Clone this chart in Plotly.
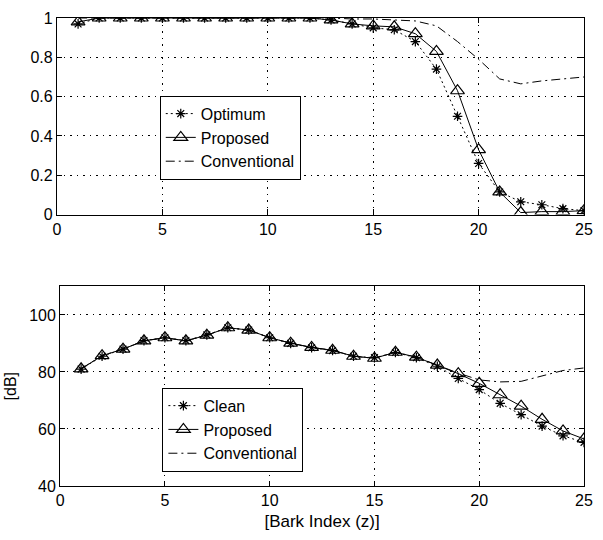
import plotly.graph_objects as go

bark = list(range(1, 26))

# Top panel (normalised gain)
top_optimum = [0.97, 1.0, 1.0, 1.0, 1.0, 1.0, 1.0, 1.0, 1.0, 1.0, 1.0, 1.0, 0.99, 0.97, 0.95,
               0.94, 0.88, 0.74, 0.50, 0.26, 0.115, 0.065, 0.05, 0.03, 0.02]
top_proposed = [0.98, 1.0, 1.0, 1.0, 1.0, 1.0, 1.0, 1.0, 1.0, 1.0, 1.0, 1.0, 0.99, 0.97, 0.96,
                0.955, 0.92, 0.83, 0.63, 0.33, 0.115, 0.01, 0.015, 0.015, 0.02]
top_conventional = [1.0, 1.0, 1.0, 1.0, 1.0, 1.0, 1.0, 1.0, 1.0, 1.0, 1.0, 1.0, 1.0, 0.995, 0.995,
                    0.99, 0.985, 0.96, 0.88, 0.79, 0.69, 0.665, 0.68, 0.69, 0.70]

# Bottom panel (dB)
bot_clean = [81, 85.5, 88, 91, 92, 91, 93, 95.5, 94.7, 92, 90, 88.5, 87.5, 85.5, 85,
             86.8, 85, 82, 77.7, 73.8, 69, 65, 61, 57.6, 55.3]
bot_proposed = [81.1, 85.7, 88, 90.9, 92, 90.9, 92.9, 95.5, 94.7, 92, 90.1, 88.6, 87.6, 85.5, 84.8,
                86.9, 85.2, 82.4, 79.4, 76, 72, 68, 63.4, 59.3, 56.5]
bot_conventional = [81.1, 85.7, 88, 90.9, 92, 90.9, 92.9, 95.5, 94.7, 92, 90.1, 88.6, 87.6, 85.5, 84.8,
                    86.9, 85.2, 82.4, 79.6, 77.2, 76.5, 76.7, 78.6, 80.5, 81.4]

x_ticks = [0, 5, 10, 15, 20, 25]

FONT = "Liberation Sans, Arial, sans-serif"
fig = go.Figure()

def add(x, y, name, xa, ya, legend, dash, symbol, msize, group):
    fig.add_trace(go.Scatter(
        x=x, y=y, name=name, xaxis=xa, yaxis=ya, legend=legend, legendgroup=group,
        mode="lines+markers" if symbol else "lines",
        line=dict(color="black", width=1, dash=dash),
        marker=dict(symbol=symbol or "circle", size=msize, color="black",
                    line=dict(color="black", width=1.2)) if symbol else None,
    ))

DOT = "2px,3px"
DASHDOT = "9px,4px,2px,4px"

add(bark, top_optimum, "Optimum", "x", "y", "legend", DOT, "asterisk-open", 8, "a")
add(bark, top_proposed, "Proposed", "x", "y", "legend", "solid", "triangle-up-open", 12, "b")
add(bark, top_conventional, "Conventional", "x", "y", "legend", DASHDOT, None, 0, "c")

add(bark, bot_clean, "Clean", "x2", "y2", "legend2", DOT, "asterisk-open", 8, "d")
add(bark, bot_proposed, "Proposed", "x2", "y2", "legend2", "solid", "triangle-up-open", 12, "e")
add(bark, bot_conventional, "Conventional", "x2", "y2", "legend2", DASHDOT, None, 0, "f")

axis_common = dict(
    showline=True, linecolor="black", linewidth=1.2, mirror="ticks",
    ticks="inside", ticklen=5, tickcolor="black",
    showgrid=True, gridcolor="black", gridwidth=1, griddash="1.5px,5px",
    zeroline=False, tickfont=dict(family=FONT, size=16, color="black"),
)

legend_common = dict(
    bgcolor="white", bordercolor="black", borderwidth=1,
    font=dict(family=FONT, size=16, color="black"),
    xanchor="left", yanchor="top", tracegroupgap=0, itemwidth=30,
)

fig.update_layout(
    width=603, height=540,
    margin=dict(l=56, r=17, t=10, b=54),
    paper_bgcolor="white", plot_bgcolor="white",
    showlegend=True,
    xaxis=dict(domain=[0, 1], range=[0, 25], tickvals=x_ticks, anchor="y", **axis_common),
    yaxis=dict(domain=[0.58, 1], range=[0, 1], dtick=0.2, anchor="x", **axis_common),
    xaxis2=dict(domain=[0.006, 1], range=[0, 25], tickvals=x_ticks, anchor="y2",
                title=dict(text="[Bark Index (z)]", font=dict(family=FONT, size=17, color="black"),
                           standoff=6),
                **axis_common),
    yaxis2=dict(domain=[0, 0.4265], range=[40, 110], tickvals=[40, 60, 80, 100], anchor="x2",
                title=dict(text="[dB]", font=dict(family=FONT, size=16, color="black"), standoff=8),
                **axis_common),
    legend=dict(x=0.195, y=0.834, **legend_common),
    legend2=dict(x=0.2, y=0.21, **legend_common),
)

fig.write_html("out.html")
